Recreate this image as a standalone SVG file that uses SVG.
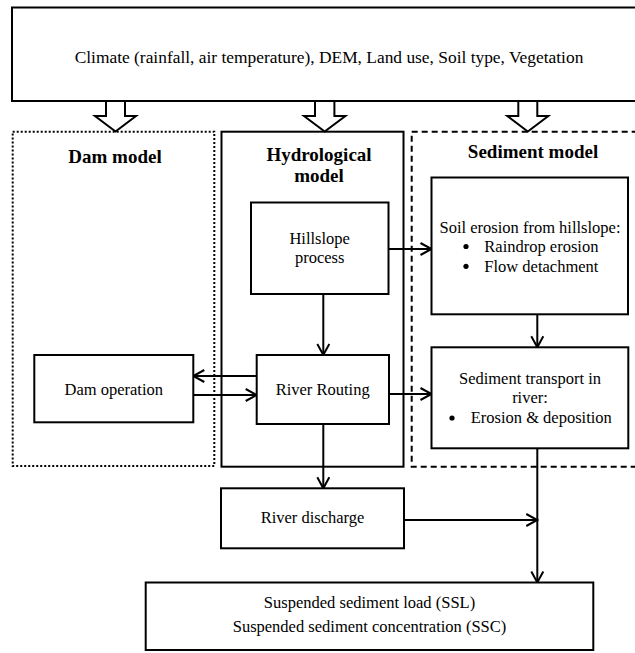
<svg xmlns="http://www.w3.org/2000/svg" width="635" height="653" viewBox="0 0 635 653" font-family="'Liberation Serif', 'Times New Roman', 'DejaVu Serif', serif">
<defs>
<style>
.box{fill:#fff;stroke:#000;stroke-width:2}
.dot{fill:none;stroke:#000;stroke-width:2;stroke-dasharray:2 2}
.dash{fill:none;stroke:#000;stroke-width:2;stroke-dasharray:6 4}
.solid{fill:none;stroke:#000;stroke-width:2}
.t{font-family:'Liberation Serif','Times New Roman','DejaVu Serif',serif;font-size:16.5px;fill:#000}
.c{text-anchor:middle}
.b{font-weight:bold;font-size:19px}
.ln{fill:none;stroke:#000;stroke-width:2;marker-end:url(#ah)}
.blk{fill:#fff;stroke:#000;stroke-width:2;stroke-linejoin:miter}
</style>
<marker id="ah" markerUnits="userSpaceOnUse" markerWidth="16" markerHeight="16" viewBox="-13 -8 16 16" refX="0" refY="0" orient="auto">
<path d="M-11,-6 L0,0 L-11,6" fill="none" stroke="#000" stroke-width="2"/>
</marker>
</defs>
<rect width="635" height="653" fill="#fff"/>

<g id="inputs">
<rect class="box" x="12" y="7.5" width="640" height="93.5"/>
<text class="t c" x="329" y="63" style="font-size:17.4px">Climate (rainfall, air temperature), DEM, Land use, Soil type, Vegetation</text>
</g>

<g id="dam-model">
<rect class="dot" x="12.7" y="131.7" width="201.6" height="334.3"/>
<text class="t c b" x="115" y="163">Dam model</text>
</g>

<g id="hydrological-model">
<rect class="solid" x="221.5" y="131.7" width="182" height="335"/>
<text class="t c b" x="319" y="161">Hydrological</text>
<text class="t c b" x="319" y="182">model</text>
</g>

<g id="sediment-model">
<rect class="dash" x="411.7" y="131.7" width="240" height="335"/>
<text class="t c b" x="533" y="158">Sediment model</text>
</g>

<g id="connectors">
<polygon class="blk" points="106,101 106,116 95,116 115.5,131.5 136,116 125,116 125,101"/>
<polygon class="blk" points="315,101 315,116 304,116 324.7,131.5 345.4,116 334.4,116 334.4,101"/>
<polygon class="blk" points="518.3,101 518.3,116 507.3,116 527.8,131.5 548.3,116 537.3,116 537.3,101"/>
<line class="ln" x1="323.3" y1="294" x2="323.3" y2="355"/>
<line class="ln" x1="388.5" y1="249" x2="431.5" y2="249"/>
<line class="ln" x1="256.7" y1="376" x2="193.3" y2="376"/>
<line class="ln" x1="193.3" y1="395" x2="256.7" y2="395"/>
<line class="ln" x1="389" y1="394" x2="431.5" y2="394"/>
<line class="ln" x1="537.3" y1="314.3" x2="537.3" y2="347.3"/>
<line class="ln" x1="323.3" y1="424" x2="323.3" y2="488.3"/>
<line class="ln" x1="404" y1="520" x2="537.3" y2="520"/>
<line class="ln" x1="537.3" y1="448.3" x2="537.3" y2="582.5"/>
</g>

<g id="hillslope-process">
<rect class="box" x="251" y="202.5" width="137.5" height="91.5"/>
<text class="t c" x="319.7" y="244">Hillslope</text>
<text class="t c" x="319.7" y="263.3">process</text>
</g>

<g id="soil-erosion">
<rect class="box" x="431.5" y="177.5" width="196.5" height="136.8"/>
<text class="t c" x="530" y="233.3">Soil erosion from hillslope:</text>
<circle cx="466" cy="246.5" r="2.6"/>
<text class="t" x="484.3" y="251.7">Raindrop erosion</text>
<circle cx="466" cy="266.3" r="2.6"/>
<text class="t" x="484.3" y="271.5">Flow detachment</text>
</g>

<g id="dam-operation">
<rect class="box" x="34.3" y="355" width="159" height="67.3"/>
<text class="t c" x="113.8" y="395">Dam operation</text>
</g>

<g id="river-routing">
<rect class="box" x="256.7" y="355" width="132.3" height="69"/>
<text class="t c" x="322.7" y="395">River Routing</text>
</g>

<g id="sediment-transport">
<rect class="box" x="431.5" y="347.3" width="196.8" height="101"/>
<text class="t c" x="530" y="384">Sediment transport in</text>
<text class="t c" x="530" y="403.3">river:</text>
<circle cx="452" cy="418" r="2.6"/>
<text class="t" x="470.7" y="423.3">Erosion &amp; deposition</text>
</g>

<g id="river-discharge">
<rect class="box" x="221" y="488.3" width="183" height="60"/>
<text class="t c" x="312.5" y="523.3">River discharge</text>
</g>

<g id="ssl-ssc">
<rect class="box" x="145.7" y="582.5" width="447.6" height="67.5"/>
<text class="t c" x="369.5" y="608.3">Suspended sediment load (SSL)</text>
<text class="t c" x="369.5" y="631.7">Suspended sediment concentration (SSC)</text>
</g>
</svg>
